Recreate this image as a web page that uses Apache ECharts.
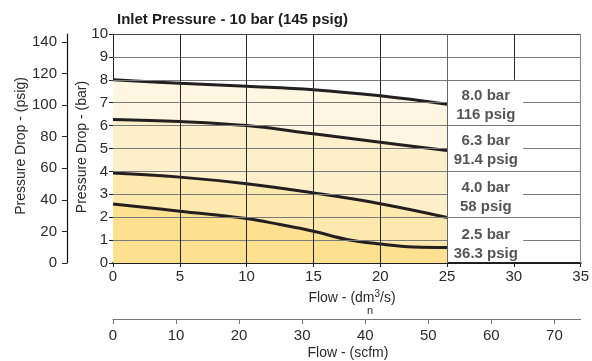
<!DOCTYPE html>
<html><head><meta charset="utf-8">
<script src="https://cdn.jsdelivr.net/npm/echarts@6/dist/echarts.min.js"></script>
<style>html,body{margin:0;padding:0;background:#fff}#c{width:592px;height:361px}</style>
</head><body><div id="c"></div>
<script>
// ---- data ----
const flowA = [0, 5, 10, 15, 20, 25];
const drop80 = [8.0, 7.85, 7.72, 7.57, 7.30, 6.93];
const drop63 = [6.27, 6.18, 6.0, 5.64, 5.27, 4.91];
const drop40 = [3.93, 3.75, 3.46, 3.06, 2.59, 1.99];
const flowB = [0, 5, 10, 12.5, 15, 17.5, 20, 22.5, 25];
const drop25 = [2.58, 2.26, 1.94, 1.68, 1.39, 1.03, 0.83, 0.70, 0.68];
const curveBar = ['8.0 bar', '6.3 bar', '4.0 bar', '2.5 bar'];
const curvePsig = ['116 psig', '91.4 psig', '58 psig', '36.3 psig'];
const barTicks = [0, 1, 2, 3, 4, 5, 6, 7, 8, 9, 10];
const psigTicks = [0, 20, 40, 60, 80, 100, 120, 140];
const flowTicks = [0, 5, 10, 15, 20, 25, 30, 35];
const scfmTicks = [0, 10, 20, 30, 40, 50, 60, 70];
const SCFM_PER_DM3S = 2.1189;
const PSIG_PER_BAR = 14.5;

// ---- layout / style ----
const FONT = "'Liberation Sans', Arial, Helvetica, sans-serif";
const TXT = '#2b2b2b';
const bandColors = ['#fef6e0', '#fdefca', '#fde8ad', '#fde190'];
const labelPos = [[27.9, 6.89], [27.9, 4.93], [27.9, 2.85], [27.9, 0.80]];

const zip = (xs, ys) => xs.map((x, i) => [x, ys[i]]);
const curves = [zip(flowA, drop80), zip(flowA, drop63), zip(flowA, drop40), zip(flowB, drop25)];

const H = '#7a7a7a', V = '#262626';
function seg(x1, y1, x2, y2, color, w) {
  return [{coord: [x1, y1], lineStyle: {color: color, width: w || 1, type: 'solid'}}, {coord: [x2, y2]}];
}
const gridLines = [];
const xMin = flowTicks[0], xMax = flowTicks[flowTicks.length - 1];
const xEnd = flowA[flowA.length - 1];
barTicks.forEach(v => {
  if (v === 0) return;
  if (v % 2 === 0 || v >= 9) gridLines.push(seg(xMin, v, xMax, v, v === 10 ? '#444' : H));
  else { gridLines.push(seg(xMin, v, xEnd, v, H)); gridLines.push(seg(30.7, v, xMax, v, H)); }
});
flowTicks.forEach(v => {
  if (v === 0) return;
  if (v < xEnd) gridLines.push(seg(v, 0, v, 10, V));
  else if (v === xEnd) gridLines.push(seg(v, 0, v, 10, '#666'));
  else if (v < xMax) gridLines.push(seg(v, 8, v, 10, V));
  else gridLines.push(seg(v, 0, v, 10, '#888'));
});

const series = [];
curves.forEach((d, i) => series.push({
  type: 'line', data: d, smooth: 0.4, symbol: 'none', z: 1, silent: true,
  lineStyle: {width: 0}, areaStyle: {color: bandColors[i], opacity: 1, origin: 'start'}
}));
series.push({
  type: 'line', data: [], symbol: 'none', z: 2, silent: true,
  markLine: {silent: true, symbol: ['none', 'none'], label: {show: false}, animation: false, data: gridLines}
});
curves.forEach(d => series.push({
  type: 'line', data: d, smooth: 0.4, symbol: 'none', z: 3, silent: true,
  lineStyle: {width: 3, color: '#231f20'}
}));
series.push({
  type: 'scatter', z: 4, symbolSize: 0, silent: true,
  data: labelPos.map((p, i) => ({value: p, name: curveBar[i] + '\n' + curvePsig[i]})),
  label: {show: true, position: 'inside', formatter: p => p.name, color: TXT,
    fontFamily: FONT, fontWeight: 'bold', fontSize: 15, lineHeight: 19, align: 'center'}
});

const chart = echarts.init(document.getElementById('c'), null, {renderer: 'canvas'});
chart.setOption({
  animation: false,
  backgroundColor: '#fff',
  textStyle: {fontFamily: FONT},
  grid: {left: 113, right: 9, top: 34, bottom: 98},
  xAxis: [{
    type: 'value', min: xMin, max: xMax, interval: 5, position: 'bottom',
    axisLine: {show: true, onZero: false, lineStyle: {color: '#1e1e1e', width: 2}},
    axisTick: {show: true, length: 4, lineStyle: {color: '#222'}},
    axisLabel: {margin: 6, fontSize: 15, color: TXT, fontFamily: FONT},
    splitLine: {show: false}
  }, {
    type: 'value', min: 0, max: xMax * SCFM_PER_DM3S, position: 'bottom', offset: 56,
    axisLine: {show: true, onZero: false, lineStyle: {color: '#777', width: 1}},
    axisTick: {show: true, length: 5, lineStyle: {color: '#777'}, customValues: scfmTicks},
    axisLabel: {margin: 9, fontSize: 15, color: TXT, fontFamily: FONT, customValues: scfmTicks},
    splitLine: {show: false}
  }],
  yAxis: [{
    type: 'value', min: 0, max: 10, interval: 1, position: 'left',
    axisLine: {show: true, onZero: false, lineStyle: {color: '#1e1e1e', width: 1}},
    axisTick: {show: true, length: 4, lineStyle: {color: '#222'}},
    axisLabel: {margin: 5, fontSize: 15, color: TXT, fontFamily: FONT},
    splitLine: {show: false}
  }, {
    type: 'value', min: 0, max: 10 * PSIG_PER_BAR, position: 'left', offset: 46,
    axisLine: {show: true, onZero: false, lineStyle: {color: '#111', width: 1.2}},
    axisTick: {show: true, length: 5, lineStyle: {color: '#222'}, customValues: psigTicks},
    axisLabel: {margin: 10, fontSize: 15, color: TXT, fontFamily: FONT, customValues: psigTicks},
    splitLine: {show: false}
  }],
  series: series,
  graphic: [
    {type: 'text', left: 117, top: 12, style: {text: 'Inlet Pressure - 10 bar (145 psig)', fill: '#1e1e1e', font: 'bold 15px ' + FONT}},
    {type: 'text', x: 21, y: 146, rotation: Math.PI / 2, style: {text: 'Pressure Drop - (psig)', fill: TXT, font: '14px ' + FONT, textAlign: 'center', textVerticalAlign: 'middle'}},
    {type: 'text', x: 82, y: 147, rotation: Math.PI / 2, style: {text: 'Pressure Drop - (bar)', fill: TXT, font: '14px ' + FONT, textAlign: 'center', textVerticalAlign: 'middle'}},
    {type: 'text', x: 352, y: 298, style: {text: 'Flow - (dm{sup|3}/s)', fill: TXT, font: '14px ' + FONT, textAlign: 'center', textVerticalAlign: 'middle',
      rich: {sup: {fontSize: 10, verticalAlign: 'top', padding: [0, 0, 8, 0], fill: TXT, fontFamily: FONT}}}},
    {type: 'text', x: 370, y: 311, style: {text: 'n', fill: TXT, font: '11px ' + FONT, textAlign: 'center', textVerticalAlign: 'middle'}},
    {type: 'text', x: 348, y: 353, style: {text: 'Flow - (scfm)', fill: TXT, font: '14px ' + FONT, textAlign: 'center', textVerticalAlign: 'middle'}}
  ]
});
</script></body></html>
